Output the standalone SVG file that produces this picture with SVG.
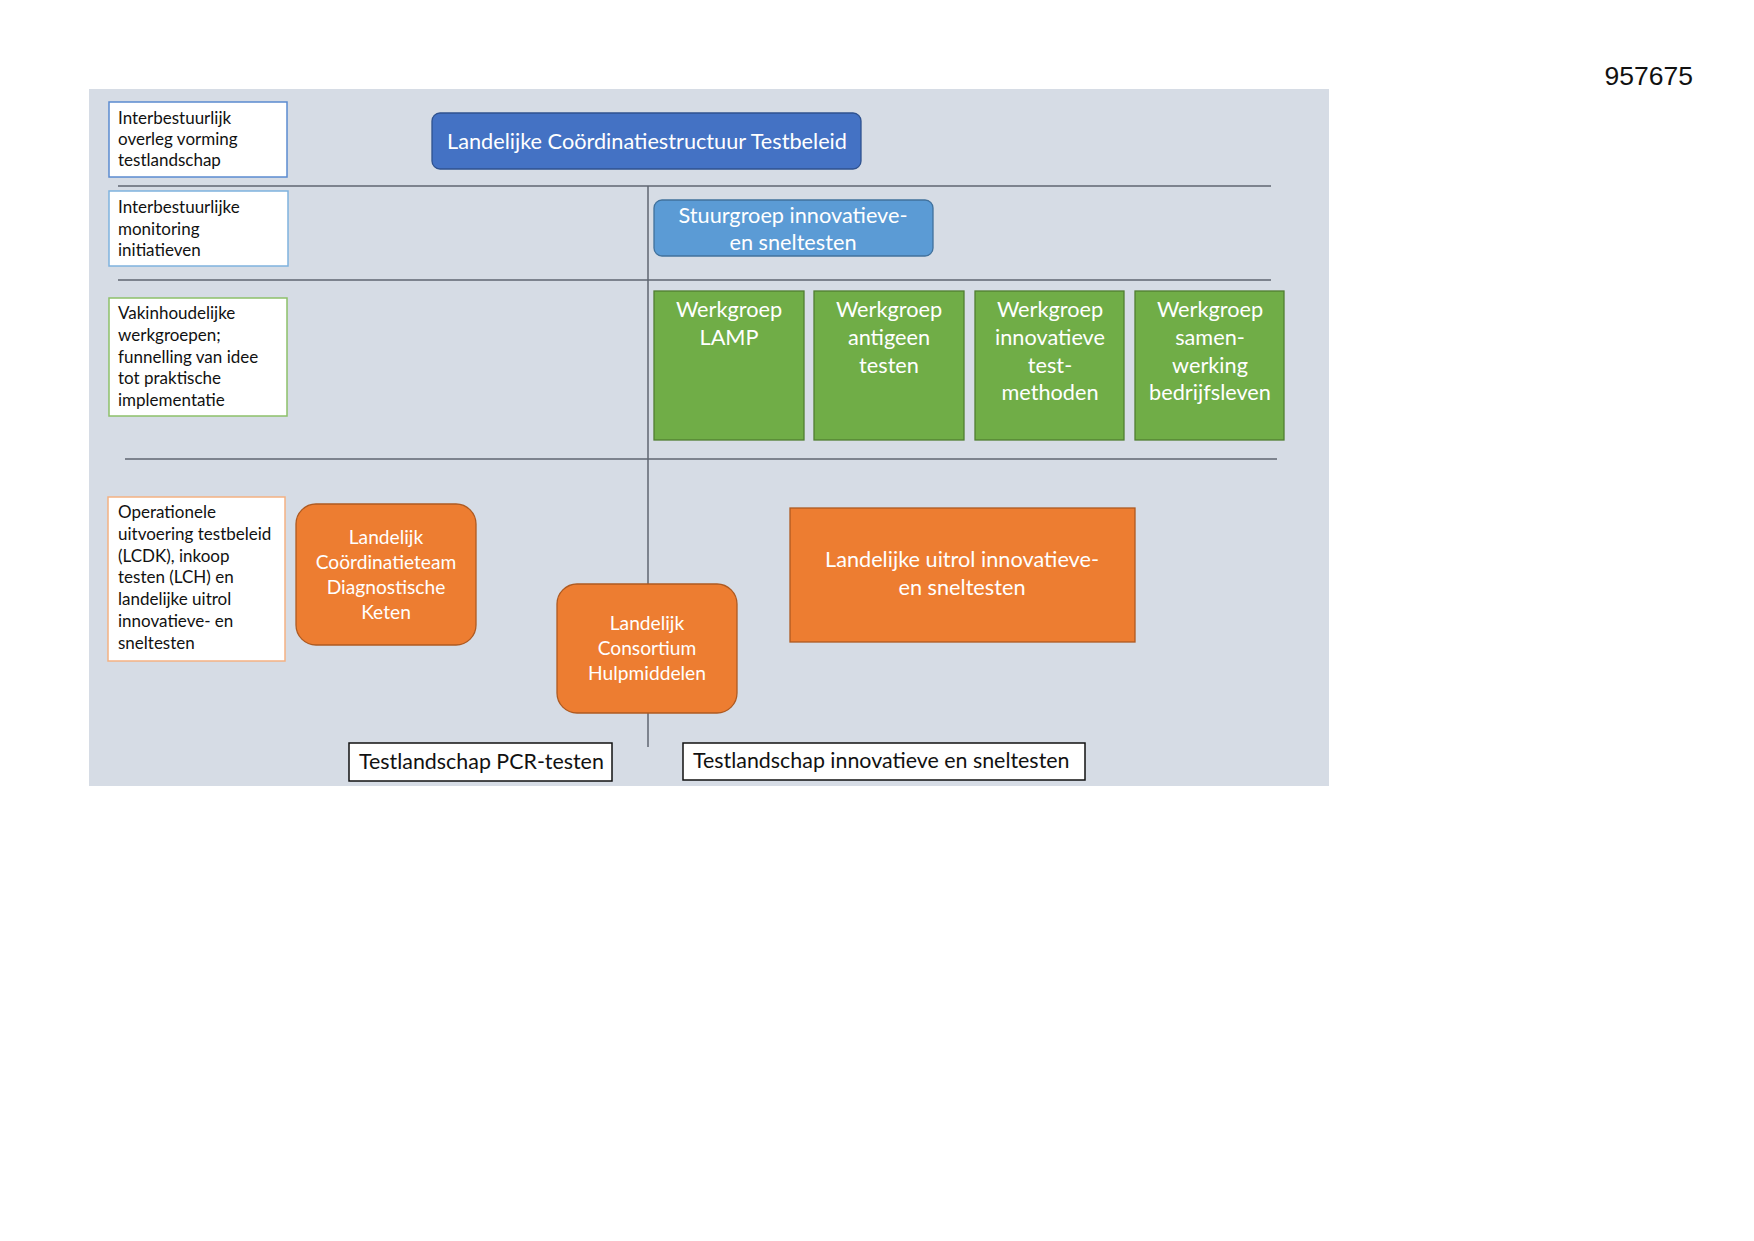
<svg xmlns="http://www.w3.org/2000/svg" width="1754" height="1241" viewBox="0 0 1754 1241">
<style>
text{font-family:Lato,"Open Sans","Liberation Sans",sans-serif}
.lbl{fill:#fff;stroke-width:1.5}
.lt{font-size:17px;fill:#111}
.wt{fill:#fff;text-anchor:middle}
.w22{font-size:21.7px}
.w19{font-size:19.2px}
.blue{fill:#4472C4;stroke:#2F528F;stroke-width:1.3}
.lblue{fill:#5B9BD5;stroke:#41719C;stroke-width:1.3}
.green{fill:#70AD47;stroke:#507E32;stroke-width:1.3}
.orange{fill:#ED7D31;stroke:#AE5A21;stroke-width:1.3}
.div{stroke:#5F6670;stroke-width:1.5;fill:none}
.land{fill:#fff;stroke:#111;stroke-width:1.5}
.bt{font-size:21.4px;fill:#111}
</style>
<rect width="1754" height="1241" fill="#fff"/>
<rect x="89" y="89" width="1240" height="697" fill="#D6DCE5"/>
<text x="1693" y="85" text-anchor="end" style="font-family:'Liberation Sans',Arial,sans-serif;font-size:26.5px" fill="#111">957675</text>

<g id="connectors">
<line class="div" x1="118" y1="186" x2="1271" y2="186"/>
<line class="div" x1="118" y1="280" x2="1271" y2="280"/>
<line class="div" x1="125" y1="459" x2="1277" y2="459"/>
<line class="div" x1="648" y1="186" x2="648" y2="747"/>
</g>

<g id="label-overleg">
<rect class="lbl" x="109" y="102" width="178" height="75" stroke="#5B8BD0"/>
<text class="lt" x="118" y="124">Interbestuurlijk</text>
<text class="lt" x="118" y="145">overleg vorming</text>
<text class="lt" x="118" y="166">testlandschap</text>
</g>
<g id="label-monitoring">
<rect class="lbl" x="109" y="191" width="179" height="75" stroke="#7FB2DE"/>
<text class="lt" x="118" y="213">Interbestuurlijke</text>
<text class="lt" x="118" y="235">monitoring</text>
<text class="lt" x="118" y="256">initiatieven</text>
</g>
<g id="label-werkgroepen">
<rect class="lbl" x="109" y="298" width="178" height="118" stroke="#8DC06A"/>
<text class="lt" x="118" y="319">Vakinhoudelijke</text>
<text class="lt" x="118" y="341">werkgroepen;</text>
<text class="lt" x="118" y="363">funnelling van idee</text>
<text class="lt" x="118" y="384">tot praktische</text>
<text class="lt" x="118" y="406">implementatie</text>
</g>
<g id="label-operationeel">
<rect class="lbl" x="108" y="497" width="177" height="164" stroke="#F4B183"/>
<text class="lt" x="118" y="518">Operationele</text>
<text class="lt" x="118" y="540">uitvoering testbeleid</text>
<text class="lt" x="118" y="562">(LCDK), inkoop</text>
<text class="lt" x="118" y="583">testen (LCH) en</text>
<text class="lt" x="118" y="605">landelijke uitrol</text>
<text class="lt" x="118" y="627">innovatieve- en</text>
<text class="lt" x="118" y="649">sneltesten</text>
</g>

<g id="lcts">
<rect class="blue" x="432" y="113" width="429" height="56" rx="8"/>
<text class="wt w22" x="647" y="149">Landelijke Coördinatiestructuur Testbeleid</text>
</g>
<g id="stuurgroep">
<rect class="lblue" x="654" y="200" width="279" height="56" rx="8"/>
<text class="wt w22" x="793" y="223">Stuurgroep innovatieve-</text>
<text class="wt w22" x="793" y="250">en sneltesten</text>
</g>

<g id="wg-lamp">
<rect class="green" x="654" y="291" width="150" height="149"/>
<text class="wt w22" x="729" y="317">Werkgroep</text>
<text class="wt w22" x="729" y="345">LAMP</text>
</g>
<g id="wg-antigeen">
<rect class="green" x="814" y="291" width="150" height="149"/>
<text class="wt w22" x="889" y="317">Werkgroep</text>
<text class="wt w22" x="889" y="345">antigeen</text>
<text class="wt w22" x="889" y="373">testen</text>
</g>
<g id="wg-innovatieve">
<rect class="green" x="975" y="291" width="149" height="149"/>
<text class="wt w22" x="1050" y="317">Werkgroep</text>
<text class="wt w22" x="1050" y="345">innovatieve</text>
<text class="wt w22" x="1050" y="373">test-</text>
<text class="wt w22" x="1050" y="400">methoden</text>
</g>
<g id="wg-bedrijfsleven">
<rect class="green" x="1135" y="291" width="149" height="149"/>
<text class="wt w22" x="1210" y="317">Werkgroep</text>
<text class="wt w22" x="1210" y="345">samen-</text>
<text class="wt w22" x="1210" y="373">werking</text>
<text class="wt w22" x="1210" y="400">bedrijfsleven</text>
</g>

<g id="lcdk">
<rect class="orange" x="296" y="504" width="180" height="141" rx="20"/>
<text class="wt w19" x="386" y="544">Landelijk</text>
<text class="wt w19" x="386" y="569">Coördinatieteam</text>
<text class="wt w19" x="386" y="594">Diagnostische</text>
<text class="wt w19" x="386" y="619">Keten</text>
</g>
<g id="lch">
<rect class="orange" x="557" y="584" width="180" height="129" rx="20"/>
<text class="wt w19" x="647" y="630">Landelijk</text>
<text class="wt w19" x="647" y="655">Consortium</text>
<text class="wt w19" x="647" y="680">Hulpmiddelen</text>
</g>
<g id="uitrol">
<rect class="orange" x="790" y="508" width="345" height="134"/>
<text class="wt w22" x="962" y="567">Landelijke uitrol innovatieve-</text>
<text class="wt w22" x="962" y="595">en sneltesten</text>
</g>

<g id="testlandschap-pcr">
<rect class="land" x="349" y="743" width="263" height="38"/>
<text class="bt" x="359" y="769">Testlandschap PCR-testen</text>
</g>
<g id="testlandschap-innovatief">
<rect class="land" x="683" y="743" width="402" height="37"/>
<text class="bt" x="693" y="768">Testlandschap innovatieve en sneltesten</text>
</g>
</svg>
